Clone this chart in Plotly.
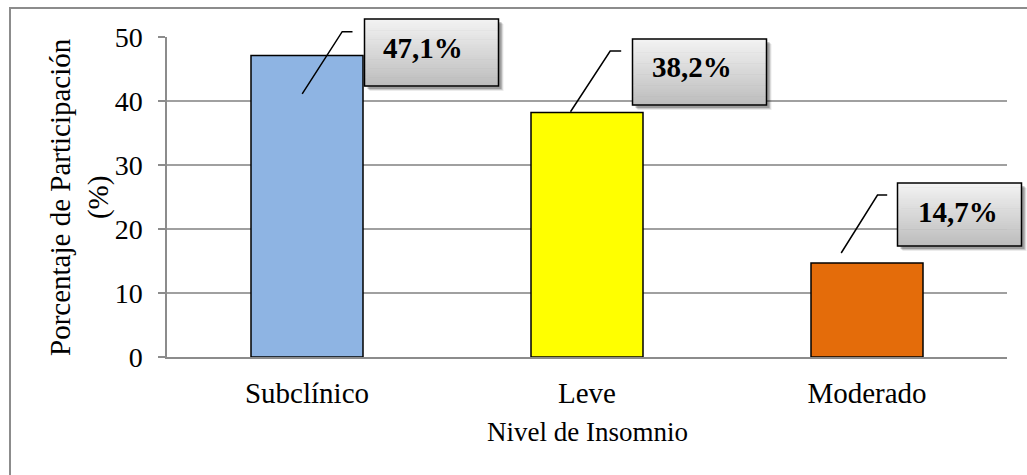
import plotly.graph_objects as go

# Datos
niveles = ["Subclínico", "Leve", "Moderado"]
porcentajes = [47.1, 38.2, 14.7]
etiquetas = ["47,1%", "38,2%", "14,7%"]
colores = ["#8EB4E3", "#FFFF00", "#E46C0A"]
y_ticks = [0, 10, 20, 30, 40, 50]

# Geometría de la figura (px)
W, H = 1027, 475
ML, MR, MT, MB = 167, 20, 37, 118
PW, PH = W - ML - MR, H - MT - MB
X_RANGE = (-0.5, 2.5)
Y_RANGE = (0, 50)

FONT = "Liberation Serif, Times New Roman, serif"


def x_px(i):
    return ML + (i - X_RANGE[0]) / (X_RANGE[1] - X_RANGE[0]) * PW


def y_px(v):
    return MT + (1 - (v - Y_RANGE[0]) / (Y_RANGE[1] - Y_RANGE[0])) * PH


def to_paper(px, py):
    return (px - ML) / PW, (MT + PH - py) / PH


# Posición de cada rótulo respecto al extremo superior de su barra (px):
# centro del cuadro, tamaño, desplazamiento del texto y puntos de la línea guía
rotulos = [
    dict(cx=124.5, cy=-3.0, w=134, h=67, tdx=-9, tdy=-5,
         guia=[(-4.8, 38.4), (35.2, -23.9), (45.5, -23.9)]),
    dict(cx=112.5, cy=-40.5, w=134, h=66, tdx=-8, tdy=-5,
         guia=[(-16.5, -0.8), (23.2, -61.5), (34.2, -61.5)]),
    dict(cx=92.5, cy=-48.4, w=124, h=63, tdx=-2, tdy=-3,
         guia=[(-25.8, -9.9), (10.5, -67.9), (20.2, -67.9)]),
]

fig = go.Figure(
    go.Bar(
        x=niveles,
        y=porcentajes,
        marker=dict(color=colores, line=dict(color="#000000", width=1.5)),
        width=0.4,
        hoverinfo="skip",
    )
)

shapes = []
annotations = []


def rect_paper(x0, y0, x1, y1, **kw):
    a, b = to_paper(x0, y0)
    c, d = to_paper(x1, y1)
    return dict(type="rect", xref="paper", yref="paper",
                x0=a, y0=d, x1=c, y1=b, layer="above", **kw)


def mezcla(c0, c1, t):
    return "rgb(%d,%d,%d)" % tuple(round(c0[k] + (c1[k] - c0[k]) * t) for k in range(3))


# Marco exterior del gráfico
marco = rect_paper(10, 8, W + 40, H + 40,
                   line=dict(color="#8C8C8C", width=2), fillcolor="rgba(0,0,0,0)")
marco["layer"] = "below"
shapes.append(marco)

TOP_C = (242, 242, 242)
BOT_C = (189, 189, 189)
N_STRIPS = 30

for i, (val, txt, r) in enumerate(zip(porcentajes, etiquetas, rotulos)):
    bx, by = x_px(i), y_px(val)

    # línea guía
    pts = [to_paper(bx + dx, by + dy) for dx, dy in r["guia"]]
    path = "M " + " L ".join(f"{p[0]},{p[1]}" for p in pts)
    shapes.append(dict(type="path", xref="paper", yref="paper", path=path,
                       line=dict(color="#000000", width=1.5), layer="above"))

    cx, cy = bx + r["cx"], by + r["cy"]
    x0, x1 = cx - r["w"] / 2, cx + r["w"] / 2
    y0, y1 = cy - r["h"] / 2, cy + r["h"] / 2

    # sombra
    for off, alpha in ((5, 0.08), (4, 0.14), (3, 0.22)):
        shapes.append(rect_paper(x0 + off, y0 + off, x1 + off, y1 + off,
                                 line=dict(width=0), fillcolor=f"rgba(0,0,0,{alpha})"))
    # relleno degradado
    sh = (y1 - y0) / N_STRIPS
    for k in range(N_STRIPS):
        col = mezcla(TOP_C, BOT_C, k / (N_STRIPS - 1))
        shapes.append(rect_paper(x0, y0 + k * sh, x1, y0 + (k + 1) * sh + 0.6,
                                 line=dict(width=0), fillcolor=col))
    # borde
    shapes.append(rect_paper(x0, y0, x1, y1, line=dict(color="#000000", width=1.5),
                             fillcolor="rgba(0,0,0,0)"))

    tx, ty = to_paper(cx + r["tdx"], cy + r["tdy"])
    annotations.append(dict(x=tx, y=ty, xref="paper", yref="paper", text=f"<b>{txt}</b>",
                            showarrow=False, xanchor="center", yanchor="middle",
                            font=dict(family=FONT, size=29, color="#000000")))

# Títulos de los ejes
ax_x, ax_y = to_paper(ML + PW / 2, 432)
annotations.append(dict(x=ax_x, y=ax_y, xref="paper", yref="paper",
                        text="Nivel de Insomnio", showarrow=False,
                        xanchor="center", yanchor="middle",
                        font=dict(family=FONT, size=27, color="#000000")))
ay_x, ay_y = to_paper(79, MT + PH / 2)
annotations.append(dict(x=ay_x, y=ay_y, xref="paper", yref="paper",
                        text="Porcentaje de Participación<br>(%)", showarrow=False,
                        textangle=-90, xanchor="center", yanchor="middle",
                        font=dict(family=FONT, size=29, color="#000000")))

fig.update_layout(
    width=W,
    height=H,
    margin=dict(l=ML, r=MR, t=MT, b=MB, pad=0),
    paper_bgcolor="#FFFFFF",
    plot_bgcolor="#FFFFFF",
    showlegend=False,
    bargap=0.6,
    shapes=shapes,
    annotations=annotations,
    font=dict(family=FONT, size=27, color="#000000"),
    xaxis=dict(
        range=list(X_RANGE),
        showline=True, linecolor="#8C8C8C", linewidth=1.5,
        showgrid=False, ticks="", ticklabelstandoff=9,
        tickfont=dict(family=FONT, size=29, color="#000000"),
        fixedrange=True,
    ),
    yaxis=dict(
        range=list(Y_RANGE),
        tickvals=y_ticks,
        showline=True, linecolor="#8C8C8C", linewidth=1.5,
        showgrid=True, gridcolor="#A0A0A0", gridwidth=1.5,
        ticks="outside", ticklen=7, tickcolor="#8C8C8C", tickwidth=1.5,
        ticklabelstandoff=10,
        tickfont=dict(family=FONT, size=28, color="#000000"),
        zeroline=False,
        fixedrange=True,
    ),
)

fig.write_html("out.html", config=dict(displayModeBar=False))
